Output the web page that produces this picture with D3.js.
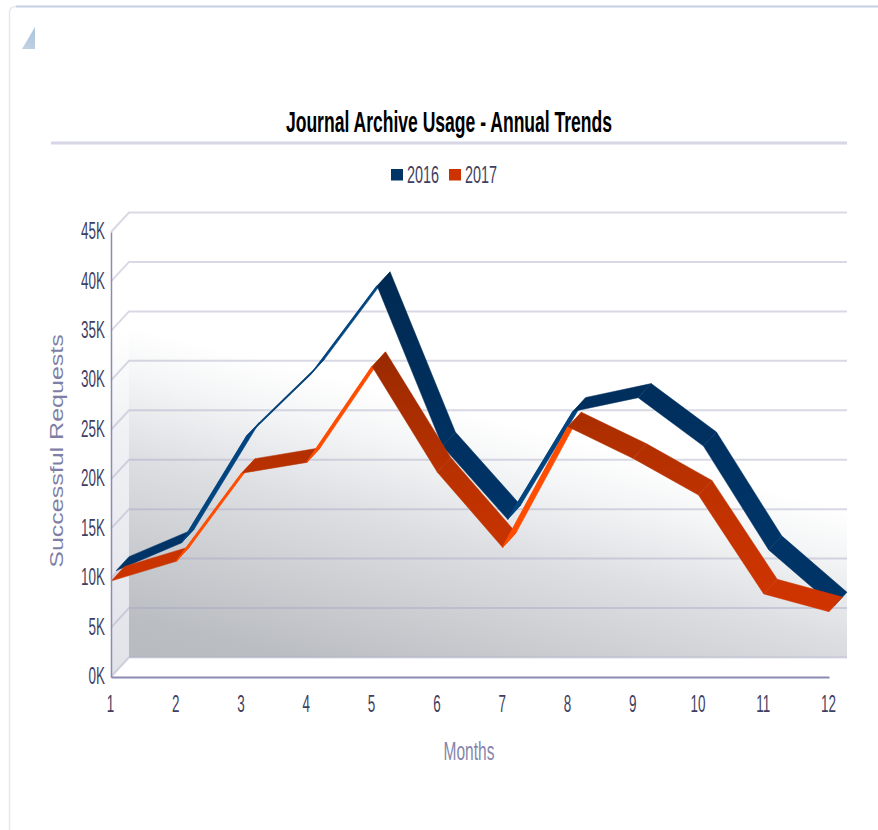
<!DOCTYPE html>
<html><head><meta charset="utf-8">
<script src="https://cdn.jsdelivr.net/npm/d3@7"></script>
<style>html,body{margin:0;padding:0;background:#fff;overflow:hidden}svg{display:block}text{font-family:"Liberation Sans",sans-serif}</style>
</head><body><svg id="c" width="878" height="830"></svg>
<script>
const months = [1,2,3,4,5,6,7,8,9,10,11,12];
const values2016 = [10.2,13.0,23.8,30.2,39,22.8,15.4,26.3,27.7,22.8,12.3,6.6];
const values2017 = [9.7,11.7,20.6,21.7,31.4,20.7,13.1,25.3,22.1,18.4,8.4,6.6];
const yTicks = [0,5,10,15,20,25,30,35,40,45];
const seriesNames = ["2016","2017"];
const seriesColors = ["#003366","#cc3300"];

const svg = d3.select("#c");
const defs = svg.append("defs");
const x = d3.scalePoint().domain(months).range([111,829]);
const y = d3.scaleLinear().domain([0,45]).range([677,232]);
const depth = {dx:18, dy:-19.5};
const slots = {"2016":[5/18,1], "2017":[0,13.5/18]};
const P = (m,v,z) => [x(m)+depth.dx*z, y(v)+depth.dy*z];
const tickSqueeze = 0.56;

function grad(id,attrs,stops){
  const g = defs.append("linearGradient").attr("id",id).attr("gradientUnits","userSpaceOnUse");
  Object.entries(attrs).forEach(([k,v])=>g.attr(k,v));
  stops.forEach(([o,c,a])=>g.append("stop").attr("offset",o).attr("stop-color",c).attr("stop-opacity",a==null?1:a));
}
grad("wall",{x1:129,y1:657,x2:209,y2:345},[[0,"#b8bbbf"],[.12,"#babdc1"],[.6,"#dcdee2"],[.85,"#f4f5f6"],[1,"#ffffff"]]);
grad("side",{x1:0,y1:670,x2:0,y2:330},[[0,"#e2e3e9"],[.7,"#f0f1f4"],[1,"#ffffff"]]);
grad("blueFace",{x1:0,y1:270,x2:0,y2:500},[[0,"#002a52"],[1,"#003366"]]);
grad("redFace",{x1:0,y1:350,x2:0,y2:610},[[0,"#992a00"],[.55,"#be3200"],[1,"#d03400"]]);

// card
svg.append("path").attr("d","M9.5,830 V13 Q9.5,6.5 16,6.5 H878").attr("fill","none").attr("stroke","#e3e9f3").attr("stroke-width",1.5);
svg.append("path").attr("d","M16,6.5 H878").attr("fill","none").attr("stroke","#c6d1e2").attr("stroke-width",2);
grad("tri",{x1:22,y1:49,x2:35,y2:27},[[0,"#c2d3e2"],[1,"#a9c4dd"]]);
svg.append("path").attr("d","M22,49 L35,27 V49 Z").attr("fill","url(#tri)");

function label(t,px,py,size,weight,color,anchor,sx,rot){
  const g = svg.append("g").attr("transform",`translate(${px},${py})`+(rot?` rotate(${rot})`:"")+` scale(${sx},1)`);
  g.append("text").text(t).attr("font-size",size).attr("font-weight",weight).attr("fill",color).attr("text-anchor",anchor);
}
label("Journal Archive Usage - Annual Trends",449,132,29,"bold","#000","middle",0.605);
svg.append("rect").attr("x",51).attr("y",141.5).attr("width",796).attr("height",3).attr("fill","#d6d6e6");

// legend
const legendX = d3.scalePoint().domain(seriesNames).range([391,449]);
seriesNames.forEach((n,i)=>{
  svg.append("rect").attr("x",legendX(n)).attr("y",169).attr("width",12).attr("height",11.5).attr("fill",seriesColors[i]);
  label(n,legendX(n)+16,183,24,"normal","#3f3f62","start",0.6);
});

// walls
const x0=x(1), x1=x(12), yB=y(0), yT=y(45);
svg.append("path").attr("d",`M${x0},${yB} V${yT} L${x0+depth.dx},${yT+depth.dy} V${yB+depth.dy} Z`).attr("fill","url(#side)");
svg.append("rect").attr("x",x0+depth.dx).attr("y",yT+depth.dy).attr("width",x1-x0).attr("height",yB-yT).attr("fill","url(#wall)");

// gridlines
yTicks.forEach(t=>{
  const yy=y(t);
  svg.append("path").attr("d",`M${x0},${yy} L${x0+depth.dx},${yy+depth.dy} H${x1+depth.dx}`)
    .attr("fill","none").attr("stroke","#a4a4c2").attr("stroke-opacity",.42).attr("stroke-width",2);
});

// ribbons
const rising = {"2016":"#004480","2017":"#ff4d00"};
const faces = {"2016":"url(#blueFace)","2017":"url(#redFace)"};
[["2016",values2016],["2017",values2017]].forEach(([name,vals])=>{
  const [z0,z1]=slots[name];
  const segs = d3.pairs(months.map((m,i)=>({m,v:vals[i]})));
  segs.forEach(([a,b])=>{
    const A=P(a.m,a.v,z0),B=P(b.m,b.v,z0),C=P(b.m,b.v,z1),D=P(a.m,a.v,z1);
    const cross=(B[0]-A[0])*(D[1]-A[1])-(B[1]-A[1])*(D[0]-A[0]);
    svg.append("path").attr("d",d3.line()([A,B,C,D])+"Z")
      .attr("fill",cross<0?faces[name]:rising[name])
      .attr("stroke",cross<0?faces[name]:rising[name]).attr("stroke-width",.5);
  });
  segs.forEach(([a,b])=>{
    const A=P(a.m,a.v,z0),B=P(b.m,b.v,z0),D=P(a.m,a.v,z1);
    const cross=(B[0]-A[0])*(D[1]-A[1])-(B[1]-A[1])*(D[0]-A[0]);
    if(Math.abs(cross)/Math.hypot(B[0]-A[0],B[1]-A[1])<4 || cross>=0)
      svg.append("path").attr("d",d3.line()([A,B])).attr("stroke",rising[name]).attr("stroke-width",1.3).attr("fill","none");
  });
});

// axes
const axisColor="#8a8ab2", tickColor="#3f3f62";
const gy=svg.append("g").attr("transform",`translate(${x0},0)`).call(d3.axisLeft(y).tickValues(yTicks).tickSize(0).tickPadding(4).tickFormat(d=>d+"K"));
gy.select(".domain").attr("stroke",axisColor).attr("stroke-width",1.5);
gy.selectAll("text").attr("x",null).attr("dy",null).attr("dominant-baseline","central")
    .attr("transform",`translate(-6,-2) scale(${tickSqueeze},1)`).attr("font-size",24).attr("fill",tickColor)
    .attr("font-family",'"Liberation Sans",sans-serif');
const gx=svg.append("g").attr("transform",`translate(0,${yB})`).call(d3.axisBottom(x).tickSize(0).tickPadding(14));
gx.select(".domain").attr("stroke",axisColor).attr("stroke-width",2);
gx.selectAll("text").attr("y",null).attr("dy",null).attr("transform",`translate(-1,35) scale(${tickSqueeze},1)`).attr("font-size",24).attr("fill",tickColor)
  .attr("font-family",'"Liberation Sans",sans-serif');

label("Months",469,760,25,"normal","#8585ab","middle",0.62);
label("Successful Requests",63,451,18,"normal","#7f7fa6","middle",1.39,-90);
</script></body></html>
